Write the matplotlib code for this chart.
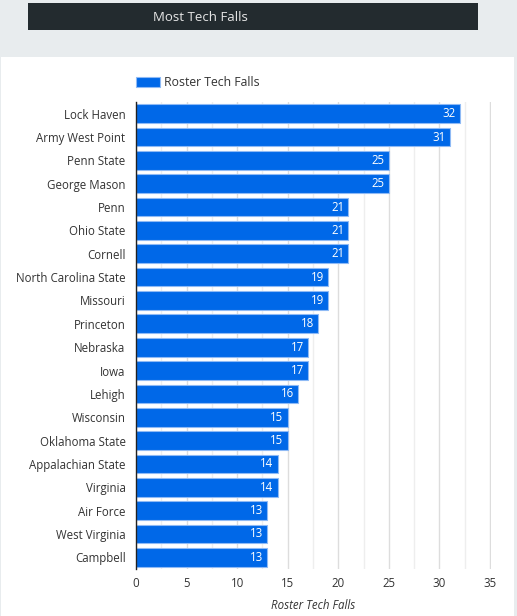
import matplotlib
matplotlib.use("Agg")
import matplotlib.pyplot as plt
from matplotlib.patches import Rectangle

teams = ["Lock Haven", "Army West Point", "Penn State", "George Mason", "Penn",
         "Ohio State", "Cornell", "North Carolina State", "Missouri", "Princeton",
         "Nebraska", "Iowa", "Lehigh", "Wisconsin", "Oklahoma State",
         "Appalachian State", "Virginia", "Air Force", "West Virginia", "Campbell"]
tech_falls = [32, 31, 25, 25, 21, 21, 21, 19, 19, 18, 17, 17, 16, 15, 15, 14, 14, 13, 13, 13]
x_ticks = [0, 5, 10, 15, 20, 25, 30, 35]
series_name = "Roster Tech Falls"
title = "Most Tech Falls"

plt.rcParams['font.family'] = ['Open Sans', 'DejaVu Sans']

W, H = 517, 616
fig = plt.figure(figsize=(W / 100, H / 100), dpi=100)
fig.patch.set_facecolor('#e8ecee')

# white panel
fig.add_artist(Rectangle((1 / W, 0), 513 / W, (H - 57) / H, transform=fig.transFigure,
                         facecolor='white', edgecolor='none', zorder=0))
# title bar
fig.add_artist(Rectangle((28 / W, 1 - 30 / H), 450 / W, 27 / H, transform=fig.transFigure,
                         facecolor='#232b2f', edgecolor='none', zorder=1))
fig.text(200 / W, 1 - 17.5 / H, title, color='#e6e6e6', fontsize=9.5,
         ha='center', va='center', zorder=2)

left, right, top, bottom = 136, 491, 102, 569
ax = fig.add_axes([left / W, 1 - bottom / H, (right - left) / W, (bottom - top) / H])
ax.set_facecolor('none')

y = list(range(len(teams)))
bars = ax.barh(y, tech_falls, height=0.8, color='#0068e8', edgecolor='#8fbaf5',
               linewidth=0.8, label=series_name, zorder=3)
for yi, v in zip(y, tech_falls):
    ax.annotate(str(v), (v, yi), xytext=(-3, 0), textcoords='offset points',
                ha='right', va='center', color='white', fontsize=8.3, zorder=4)

ax.set_ylim(len(teams) - 0.5, -0.5)
ax.set_xlim(0, 35.1)
ax.set_yticks(y)
ax.set_yticklabels(teams, fontsize=8.3, color='#333333')
ax.set_xticks(x_ticks)
ax.set_xticklabels([str(t) for t in x_ticks], fontsize=8.3, color='#333333')
ax.set_xticks([2.5 + 5 * i for i in range(7)], minor=True)
ax.tick_params(axis='x', length=0, pad=6)
ax.tick_params(axis='y', length=0, pad=7.5)
ax.tick_params(axis='x', which='minor', length=0)
ax.grid(axis='x', which='major', color='#dddddd', linewidth=1, zorder=0)
ax.grid(axis='x', which='minor', color='#eeeeee', linewidth=1, zorder=0)
ax.grid(axis='y', visible=False)
for s in ['top', 'right', 'bottom']:
    ax.spines[s].set_visible(False)
ax.spines['left'].set_color('#222222')
ax.spines['left'].set_linewidth(1)
ax.spines['left'].set_zorder(5)

ax.set_xlabel(series_name, fontsize=8.3, style='italic', color='#333333', labelpad=6)

leg = ax.legend(loc='lower left', bbox_to_anchor=(0.0, 1 + 13 / (bottom - top)), frameon=False,
                fontsize=8.8, handlelength=1.95, handleheight=0.9, handletextpad=0.35,
                borderaxespad=0, borderpad=0, labelcolor='#333333')

fig.savefig('out.png', dpi=100, facecolor=fig.get_facecolor())
